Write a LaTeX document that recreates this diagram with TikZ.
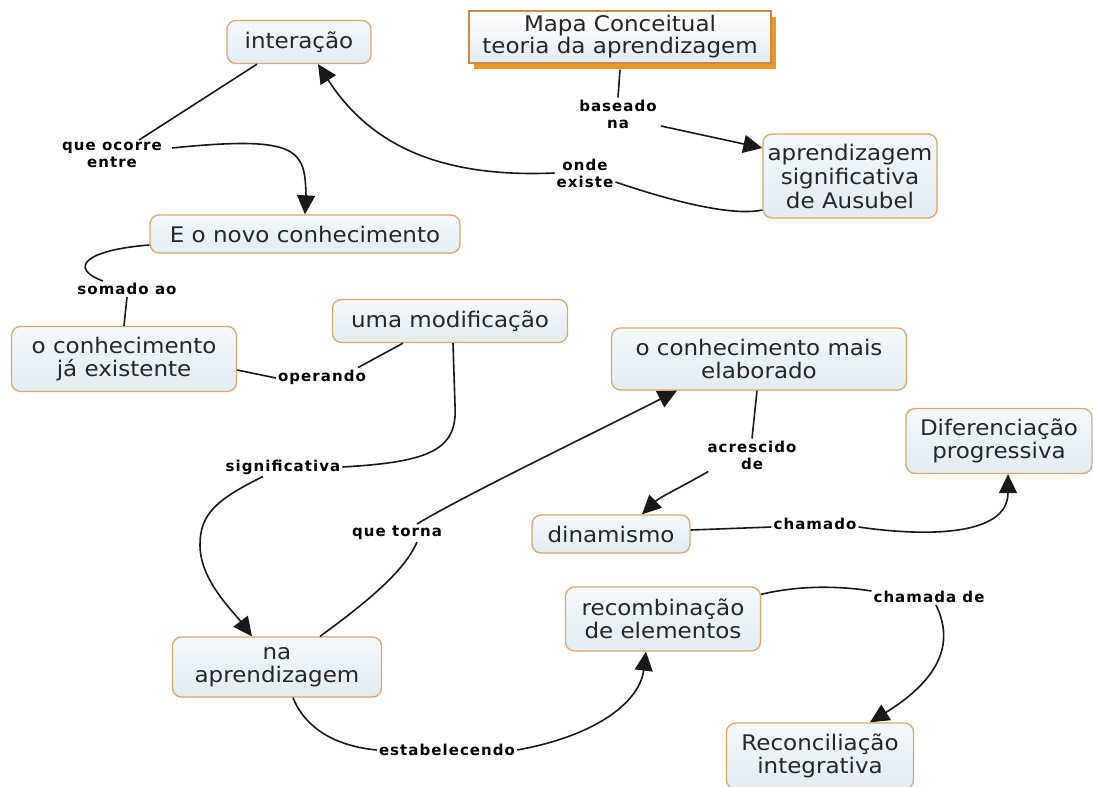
\documentclass[tikz,border=0pt]{standalone}
\usepackage{fontspec}
\setmainfont{DejaVu Sans}[FakeStretch=1.07]
\newfontfamily\lblfont{DejaVu Sans}[LetterSpace=7]
\usetikzlibrary{arrows.meta,shadows}
\definecolor{bordercol}{RGB}{220,168,108}
\definecolor{filltop}{RGB}{243,248,251}
\definecolor{fillbot}{RGB}{226,236,243}
\definecolor{mapaborder}{RGB}{200,140,70}
\definecolor{mapashadow}{RGB}{240,150,40}
\definecolor{linecol}{RGB}{25,25,25}
\tikzset{
  concept/.style={rounded corners=9pt, draw=bordercol, line width=1.3pt,
    top color=filltop, bottom color=fillbot, align=center, inner sep=0pt,
    font=\fontsize{21.5}{22.5}\selectfont, text=black!85},
  mapabox/.style={draw=mapaborder, line width=1.3pt, top color=white, bottom color=fillbot,
    align=center, inner sep=0pt, font=\fontsize{21.5}{22}\selectfont, text=black!85,
    drop shadow={shadow xshift=5pt, shadow yshift=-6pt, fill=mapashadow, opacity=1}},
  lbl/.style={align=center, inner sep=2pt, font=\lblfont\bfseries\fontsize{15}{17}\selectfont, text=black},
  conn/.style={draw=linecol, line width=1.6pt},
  arr/.style={conn, -{Triangle[length=19pt,width=18pt]}}
}
\begin{document}
\begin{tikzpicture}[x=1pt,y=-1pt]
\fill[white] (0,0) rectangle (1093,787);
\useasboundingbox (0,0) rectangle (1093,787);

% concepts
\node[concept, minimum width=144pt, minimum height=43pt] (int) at (299,42) {interação};
\node[mapabox, minimum width=302pt, minimum height=52pt] (mapa) at (620,37) {Mapa Conceitual\\teoria da aprendizagem};
\node[concept, minimum width=174pt, minimum height=84pt, font=\fontsize{21.5}{24}\selectfont] (aus) at (850,176) {aprendizagem\\significativa\\de Ausubel};
\node[concept, minimum width=310pt, minimum height=38pt] (novo) at (305,234) {E o novo conhecimento};
\node[concept, minimum width=225pt, minimum height=65pt] (exist) at (124,359) {o conhecimento\\já existente};
\node[concept, minimum width=235pt, minimum height=43pt] (modif) at (450,321) {uma modificação};
\node[concept, minimum width=295pt, minimum height=62pt] (elab) at (759,359) {o conhecimento mais\\elaborado};
\node[concept, minimum width=186pt, minimum height=65pt] (dif) at (999,441) {Diferenciação\\progressiva};
\node[concept, minimum width=158pt, minimum height=38pt] (dina) at (611,534) {dinamismo};
\node[concept, minimum width=195pt, minimum height=64pt] (recomb) at (663,619) {recombinação\\de elementos};
\node[concept, minimum width=209pt, minimum height=60pt] (naap) at (277,667) {na\\aprendizagem};
\node[concept, minimum width=187pt, minimum height=66pt] (reconc) at (820,756) {Reconciliação\\integrativa};

% linking phrases
\node[lbl] (ocorre) at (112,155) {que ocorre\\entre};
\node[lbl] (baseado) at (618,114) {baseado\\na};
\node[lbl] (onde) at (585,173) {onde\\existe};
\node[lbl] (somado) at (127,289) {somado ao};
\node[lbl] (operando) at (322,377) {operando};
\node[lbl] (signif) at (283,467) {significativa};
\node[lbl] (torna) at (397,533) {que torna};
\node[lbl] (acresc) at (752,455) {acrescido\\de};
\node[lbl] (chamado) at (815,524) {chamado};
\node[lbl] (chamada) at (929,597) {chamada de};
\node[lbl] (estab) at (447,750) {estabelecendo};

% connectors
\draw[conn] ([xshift=-42pt]int.south) -- ([xshift=-25pt]ocorre.north east);
\draw[arr] ([xshift=8pt,yshift=-8pt]ocorre.north east) .. controls (300,135) and (305,150) .. (306,196) -- (novo.north);

\draw[conn] ([yshift=-6pt]mapa.south) -- (baseado.north);
\draw[arr] ([xshift=2pt,yshift=-12pt]baseado.east) -- ([yshift=28pt]aus.west);

\draw[conn] ([yshift=-34pt]aus.west) .. controls (735,216) and (680,204) .. ([yshift=-9pt]onde.east);
\draw[arr] (onde.west) .. controls (440,178) and (370,145) .. ([xshift=19pt]int.south);

\draw[conn] ([yshift=-11pt]novo.west) .. controls (85,250) and (68,268) .. ([xshift=-24pt]somado.north);
\draw[conn] (somado.south) -- (exist.north);

\draw[conn] ([yshift=-11pt]exist.east) -- ([yshift=-1pt]operando.west);
\draw[conn] ([xshift=-10pt]operando.north east) -- ([xshift=-47pt]modif.south);

\draw[conn] ([xshift=3pt]modif.south) -- (455,405) .. controls (458,450) and (430,462) .. (signif.east);
\draw[arr] ([xshift=-20pt]signif.south) .. controls (215,500) and (200,515) .. (200,545) .. controls (200,580) and (232,610) .. ([xshift=-25pt]naap.north);

\draw[conn] ([xshift=43pt]naap.north) .. controls (370,600) and (405,570) .. ([xshift=20pt]torna.south);
\draw[arr] ([xshift=20pt]torna.north) .. controls (465,495) and (600,430) .. ([xshift=-82pt]elab.south);

\draw[conn] ([xshift=-2pt]elab.south) -- (acresc.north);
\draw[arr] ([xshift=3pt]acresc.south west) .. controls (685,485) and (660,497) .. ([xshift=31pt]dina.north);

\draw[conn] ([yshift=4pt]dina.east) -- ([yshift=-3pt]chamado.west);
\draw[arr] ([yshift=-3pt]chamado.east) .. controls (920,536) and (1008,538) .. ([xshift=9pt]dif.south);

\draw[conn] ([yshift=-8pt]recomb.north east) .. controls (800,585) and (840,586) .. ([yshift=6pt]chamada.west);
\draw[arr] ([xshift=7pt]chamada.south) .. controls (958,650) and (930,685) .. ([xshift=50pt]reconc.north);

\draw[conn] ([xshift=16pt]naap.south) .. controls (305,728) and (335,746) .. (estab.west);
\draw[arr] (estab.east) .. controls (600,735) and (640,700) .. ([xshift=-17pt]recomb.south);
\end{tikzpicture}
\end{document}
